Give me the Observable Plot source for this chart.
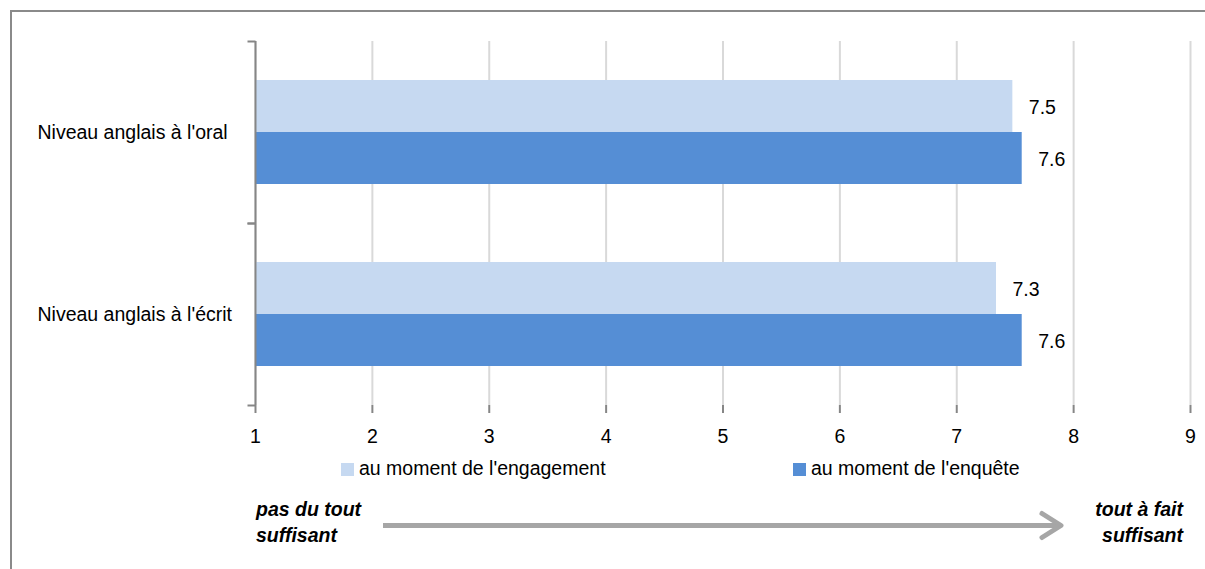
<!DOCTYPE html>
<html>
<head>
<meta charset="utf-8">
<script src="https://cdn.jsdelivr.net/npm/d3@7"></script>
<script src="https://cdn.jsdelivr.net/npm/@observablehq/plot@0.6"></script>
<style>
  html, body { margin: 0; padding: 0; background: #fff; }
  #wrap { position: relative; width: 1205px; height: 569px; overflow: hidden; background: #fff;
          font-family: "Liberation Sans", Arial, sans-serif; font-size: 19.5px; color: #000; }
  #frame { position: absolute; left: 10px; top: 10px; width: 1400px; height: 800px; border: 2px solid #8a8a8a; box-sizing: border-box; }
  #chart { position: absolute; left: 0; top: 0; }
  .leg { position: absolute; top: 455px; height: 26px; line-height: 26px; white-space: nowrap; }
  .leg i { display: inline-block; width: 13px; height: 13px; vertical-align: -1px; margin-right: 5px; }
  .note { position: absolute; font-weight: bold; font-style: italic; line-height: 26px; white-space: nowrap; }
  #arrow { position: absolute; left: 0; top: 0; }
</style>
</head>
<body>
<div id="wrap">
  <div id="frame"></div>
  <div id="chart"></div>
  <div id="legend"></div>
  <svg id="arrow" width="1205" height="569"></svg>
  <div class="note" style="left:256px; top:496px; text-align:left;">pas du tout<br>suffisant</div>
  <div class="note" style="right:22px; top:496px; text-align:right;">tout à fait<br>suffisant</div>
</div>
<script>
const categories = ["Niveau anglais à l'oral", "Niveau anglais à l'écrit"];
const series = ["au moment de l'engagement", "au moment de l'enquête"];
const engagement = [7.48, 7.34];
const enquete = [7.56, 7.56];
const xTicks = [1, 2, 3, 4, 5, 6, 7, 8, 9];
const colors = ["#c6d9f1", "#558ed5"];

const data = [];
categories.forEach((c, i) => {
  data.push({category: c, series: series[0], value: engagement[i]});
  data.push({category: c, series: series[1], value: enquete[i]});
});

const axisGray = "#868686";
const tickSymbol = { draw(ctx) { ctx.moveTo(-8, 0); ctx.lineTo(0, 0); } };

const chart = Plot.plot({
  width: 1205,
  height: 460,
  marginLeft: 255,
  marginRight: 15,
  marginTop: 41,
  marginBottom: 55,
  style: { fontFamily: "'Liberation Sans', Arial, sans-serif", fontSize: "19.5px", background: "transparent", overflow: "visible" },
  x: { domain: [xTicks[0], xTicks[xTicks.length - 1]], label: null },
  y: { domain: series, paddingInner: 0, paddingOuter: 0.75, axis: null },
  fy: { domain: categories, padding: 0, axis: null },
  color: { domain: series, range: colors },
  marks: [
    Plot.gridX(xTicks, { stroke: "#d9d9d9", strokeOpacity: 1, strokeWidth: 2 }),
    Plot.barX(data, { fy: "category", y: "series", x1: xTicks[0], x2: "value", fill: "series" }),
    Plot.text(data, { fy: "category", y: "series", x: "value", text: d => d3.format(".1f")(d.value),
                      dx: 16, dy: 1.5, textAnchor: "start", fill: "#000" }),
    Plot.ruleX([xTicks[0]], { stroke: axisGray, strokeWidth: 2 }),
    Plot.dot([0], { frameAnchor: "top-left", symbol: tickSymbol, stroke: axisGray, strokeWidth: 2, fill: "none" }),
    Plot.dot([0], { frameAnchor: "bottom-left", symbol: tickSymbol, stroke: axisGray, strokeWidth: 2, fill: "none" }),
    Plot.axisX(xTicks, { anchor: "bottom", tickSize: 8, tickPadding: 16, stroke: axisGray, fill: "#000",
                         strokeWidth: 2, line: true, label: null, tickFormat: d => String(d) }),
    Plot.text(categories, { fy: d => d, frameAnchor: "left", dx: -218, textAnchor: "start", text: d => d, fill: "#000" })
  ]
});
document.getElementById("chart").appendChild(chart);

// legend
const legendPos = [341, 793];
const legend = document.getElementById("legend");
series.forEach((s, i) => {
  const el = document.createElement("div");
  el.className = "leg";
  el.style.left = legendPos[i] + "px";
  el.innerHTML = `<i style="background:${colors[i]}"></i>${s}`;
  legend.appendChild(el);
});

// arrow
const svg = d3.select("#arrow");
svg.append("line").attr("x1", 383).attr("x2", 1059).attr("y1", 525.5).attr("y2", 525.5)
  .attr("stroke", "#a6a6a6").attr("stroke-width", 5);
svg.append("polyline").attr("points", "1042,513.5 1061,525.5 1042,537.5")
  .attr("fill", "none").attr("stroke", "#a6a6a6").attr("stroke-width", 5)
  .attr("stroke-linecap", "round").attr("stroke-linejoin", "round");
</script>
</body>
</html>
